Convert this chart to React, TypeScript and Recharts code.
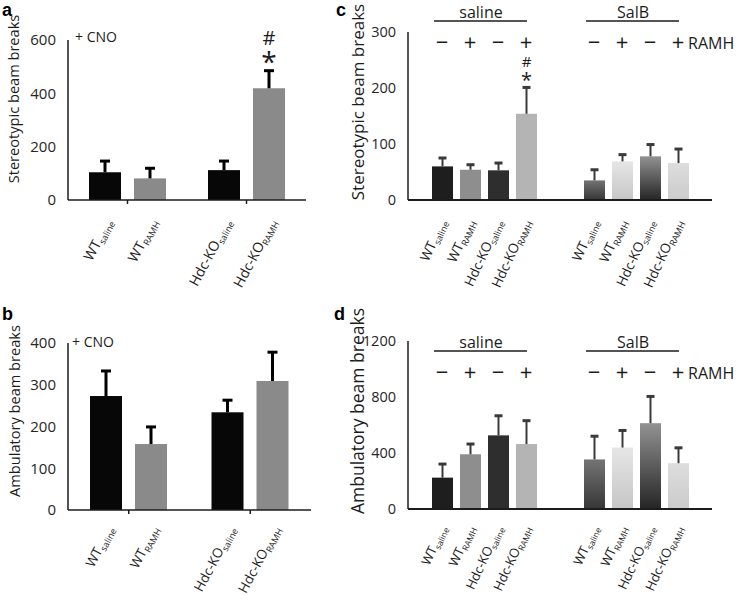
import { BarChart, Bar, XAxis, YAxis, Cell } from 'recharts';

const FONT = '"Open Sans", "Liberation Sans", sans-serif';
const INK = '#1c1c1c';

// ---- panels a, b: + CNO, grouped by genotype ----
const genotypes = ['WT', 'Hdc-KO'];
const pairSubs = ['saline', 'RAMH'];

const stereoCnoSaline = [104, 112];
const stereoCnoSalineErr = [42, 34];
const stereoCnoRamh = [81, 419];
const stereoCnoRamhErr = [38, 66];
const stereoCnoMarks = ['', '#*'];
const stereoCnoTicks = [0, 200, 400, 600];

const ambCnoSaline = [273, 234];
const ambCnoSalineErr = [60, 29];
const ambCnoRamh = [158, 309];
const ambCnoRamhErr = [41, 69];
const ambCnoTicks = [0, 100, 200, 300, 400];

// ---- panels c, d: saline vs SalB pretreatment ----
const treatments = ['saline', 'SalB'];
const groupLabels = [
  ['WT', 'saline'],
  ['WT', 'RAMH'],
  ['Hdc-KO', 'saline'],
  ['Hdc-KO', 'RAMH'],
];
const ramhSigns = ['\u2212', '+', '\u2212', '+'];

const stereoWtSal = [60, 35];
const stereoWtSalErr = [15, 19];
const stereoWtRamh = [54, 69];
const stereoWtRamhErr = [9, 12];
const stereoKoSal = [53, 78];
const stereoKoSalErr = [13, 21];
const stereoKoRamh = [154, 66];
const stereoKoRamhErr = [47, 25];
const stereoKoRamhMarks = ['#*', ''];
const stereoTicks = [0, 100, 200, 300];

const ambWtSal = [224, 354];
const ambWtSalErr = [97, 166];
const ambWtRamh = [391, 439];
const ambWtRamhErr = [73, 122];
const ambKoSal = [526, 613];
const ambKoSalErr = [140, 191];
const ambKoRamh = [464, 327];
const ambKoRamhErr = [167, 110];
const ambTicks = [0, 400, 800, 1200];

// shades for the SalB bars (top, bottom)
const salbShades = [
  ['#747474', '#363636'],
  ['#e6e6e6', '#c6c6c6'],
  ['#929292', '#252525'],
  ['#dddddd', '#cbcbcb'],
];
const salineShades = ['#1e1e1e', '#8e8e8e', '#2e2e2e', '#b4b4b4'];
const cdKeys = ['wtSal', 'wtRamh', 'koSal', 'koRamh'];

type Series = { key: string; fills: string[] };

function BarWithErr(p: any) {
  const { x, y, width, height, fill, payload, sKey, cfg } = p;
  const v = payload[sKey];
  if (!v || height <= 0) return null;
  const perUnit = height / v;
  const top = y - payload[sKey + 'Err'] * perUnit;
  const cx = x + width / 2;
  const mark = payload[sKey + 'Mark'];
  const e = cfg.err;
  const s = cfg.sig;
  return (
    <g>
      <rect x={x} y={y} width={width} height={height} fill={fill} />
      <line x1={cx} x2={cx} y1={y} y2={top} stroke={e.color} strokeWidth={e.width} />
      <line x1={cx - e.cap / 2} x2={cx + e.cap / 2} y1={top} y2={top} stroke={e.color} strokeWidth={e.capW} />
      {mark ? (
        <text fill={INK} fontFamily={FONT} textAnchor="middle">
          <tspan x={cx} y={top - s.hashGap} fontSize={s.hashSize}>#</tspan>
          <tspan x={cx} y={top - s.starGap} fontSize={s.starSize}>*</tspan>
        </text>
      ) : null}
    </g>
  );
}

function BottomTick(p: any) {
  const { x, y, payload, cfg } = p;
  const labs: string[][] = cfg.labels(payload.value);
  const n = labs.length;
  const step = cfg.barSize + cfg.barGap;
  const base = y - cfg.tickSize;
  const annot = cfg.annot;
  const lineY = base - cfg.plotH + (annot ? annot.y : 0);
  return (
    <g fontFamily={FONT} fill={INK}>
      {labs.map(([main, sub], i) => {
        const bx = x + (i - (n - 1) / 2) * step + cfg.labDx;
        const by = base + cfg.labDy;
        return (
          <text key={i} x={bx} y={by} transform={`rotate(${cfg.angle}, ${bx}, ${by})`} textAnchor="end" fontSize={cfg.labFont}>
            {main}
            <tspan fontSize={cfg.subFont} dy={3}>{sub}</tspan>
          </text>
        );
      })}
      {annot ? (
        <g>
          <line x1={x - 50} x2={x + 43} y1={lineY} y2={lineY} stroke={INK} strokeWidth={1.5} />
          <text x={x - 3} y={lineY - 3} textAnchor="middle" fontSize={16}>{payload.value}</text>
          {ramhSigns.map((s, i) => (
            <text key={i} x={x + (i - (n - 1) / 2) * step} y={lineY + 29} textAnchor="middle" fontSize={22}>{s}</text>
          ))}
          {payload.index === 1 ? (
            <text x={x + 52} y={lineY + 28} fontSize={16}>RAMH</text>
          ) : null}
        </g>
      ) : null}
    </g>
  );
}

function AxisTitle(p: any) {
  const { tx, ty, size, text } = p;
  return (
    <text x={tx} y={ty} transform={`rotate(-90, ${tx}, ${ty})`} textAnchor="middle" fontSize={size} fill={INK} fontFamily={FONT}>
      {text}
    </text>
  );
}

function Panel({ cfg, rows, series }: { cfg: any; rows: any[]; series: Series[] }) {
  return (
    <div style={{ position: 'absolute', left: cfg.left, top: cfg.top }}>
      <BarChart width={cfg.width} height={cfg.height} data={rows} margin={cfg.margin} barSize={cfg.barSize} barGap={cfg.barGap}>
        <defs>
          {salbShades.map((s, i) => (
            <linearGradient key={i} id={`${cfg.id}-g${i}`} x1="0" y1="0" x2="0" y2="1">
              <stop offset="0%" stopColor={s[0]} />
              <stop offset="100%" stopColor={s[1]} />
            </linearGradient>
          ))}
        </defs>
        <XAxis
          dataKey="cat"
          interval={0}
          height={60}
          axisLine={{ stroke: INK, strokeWidth: cfg.xAxisW }}
          tickLine={cfg.tickSize ? { stroke: INK, strokeWidth: 1.5 } : false}
          tickSize={cfg.tickSize}
          tickMargin={0}
          tick={(t: any) => <BottomTick {...t} cfg={cfg} />}
        />
        <YAxis
          type="number"
          domain={[0, cfg.ticks[cfg.ticks.length - 1]]}
          ticks={cfg.ticks}
          interval={0}
          width={cfg.yWidth}
          axisLine={{ stroke: INK, strokeWidth: 1.5 }}
          tickLine={false}
          tickSize={0}
          tickMargin={12}
          tick={{ fontSize: cfg.yTickFont, fill: '#262626', fontFamily: FONT }}
          label={<AxisTitle tx={cfg.titleX} ty={cfg.titleY} size={cfg.titleSize} text={cfg.title} />}
        />
        {series.map((s) => (
          <Bar
            key={s.key}
            dataKey={s.key}
            isAnimationActive={false}
            shape={(b: any) => <BarWithErr {...b} sKey={s.key} cfg={cfg} />}
          >
            {rows.map((r, i) => (
              <Cell key={r.cat} fill={s.fills[i]} />
            ))}
          </Bar>
        ))}
      </BarChart>
    </div>
  );
}

function abRows(sal: number[], salErr: number[], ramh: number[], ramhErr: number[], marks: string[]) {
  return genotypes.map((g, i) => ({
    cat: g,
    saline: sal[i],
    salineErr: salErr[i],
    salineMark: '',
    ramh: ramh[i],
    ramhErr: ramhErr[i],
    ramhMark: marks[i],
  }));
}

function cdRows(vals: number[][], errs: number[][], koRamhMarks: string[]) {
  return treatments.map((t, i) => {
    const r: any = { cat: t };
    cdKeys.forEach((k, j) => {
      r[k] = vals[j][i];
      r[k + 'Err'] = errs[j][i];
      r[k + 'Mark'] = j === 3 ? koRamhMarks[i] : '';
    });
    return r;
  });
}

const abSeries: Series[] = [
  { key: 'saline', fills: ['#070707', '#070707'] },
  { key: 'ramh', fills: ['#8a8a8a', '#8a8a8a'] },
];

function cdSeries(id: string): Series[] {
  return cdKeys.map((k, j) => ({ key: k, fills: [salineShades[j], `url(#${id}-g${j})`] }));
}

const abCommon = {
  barSize: 32,
  barGap: 13,
  yWidth: 68,
  yTickFont: 15,
  labFont: 14,
  subFont: 9,
  angle: -62,
  labDx: 8,
  labDy: 22,
  xAxisW: 1.5,
  tickSize: 4,
  labels: (cat: string) => pairSubs.map((s) => [cat, s]),
  err: { color: '#000', width: 3, cap: 10, capW: 3 },
  sig: { hashSize: 20, starSize: 28, hashGap: 26, starGap: -1 },
};

const cdCommon = {
  barSize: 21,
  barGap: 7,
  yWidth: 88,
  yTickFont: 14.5,
  labFont: 13.5,
  subFont: 9,
  angle: -65,
  labDx: 5,
  labDy: 22,
  xAxisW: 2,
  tickSize: 0,
  labels: () => groupLabels,
  err: { color: '#3a3a3a', width: 2, cap: 8, capW: 3 },
  sig: { hashSize: 15, starSize: 20, hashGap: 20, starGap: 0 },
};

const cfgA = {
  ...abCommon, id: 'pa', left: 0, top: 0, width: 320, height: 300,
  margin: { top: 40, right: 14, bottom: 40, left: 0 }, plotH: 160,
  ticks: stereoCnoTicks, title: 'Stereotypic beam breaks', titleSize: 14.6, titleX: 19, titleY: 99,
};
const cfgB = {
  ...abCommon, id: 'pb', left: 0, top: 295, width: 320, height: 300,
  margin: { top: 48, right: 9, bottom: 25, left: 0 }, plotH: 167,
  labFont: 13.5, labDy: 19,
  ticks: ambCnoTicks, title: 'Ambulatory beam breaks', titleSize: 14.6, titleX: 20, titleY: 116,
};
const cfgC = {
  ...cdCommon, id: 'pc', left: 320, top: 0, width: 420, height: 300,
  margin: { top: 32, right: 28, bottom: 40, left: 0 }, plotH: 168, annot: { y: -11 },
  ticks: stereoTicks, title: 'Stereotypic beam breaks', titleSize: 17, titleX: 44, titleY: 102,
};
const cfgD = {
  ...cdCommon, id: 'pd', left: 320, top: 295, width: 420, height: 300,
  margin: { top: 46, right: 28, bottom: 26, left: 0 }, plotH: 168, annot: { y: 10 },
  labFont: 13, subFont: 8.5, labDy: 19,
  ticks: ambTicks, title: 'Ambulatory beam breaks', titleSize: 17.5, titleX: 44, titleY: 116,
};

export default function App() {
  const rowsA = abRows(stereoCnoSaline, stereoCnoSalineErr, stereoCnoRamh, stereoCnoRamhErr, stereoCnoMarks);
  const rowsB = abRows(ambCnoSaline, ambCnoSalineErr, ambCnoRamh, ambCnoRamhErr, ['', '']);
  const rowsC = cdRows(
    [stereoWtSal, stereoWtRamh, stereoKoSal, stereoKoRamh],
    [stereoWtSalErr, stereoWtRamhErr, stereoKoSalErr, stereoKoRamhErr],
    stereoKoRamhMarks,
  );
  const rowsD = cdRows(
    [ambWtSal, ambWtRamh, ambKoSal, ambKoRamh],
    [ambWtSalErr, ambWtRamhErr, ambKoSalErr, ambKoRamhErr],
    ['', ''],
  );

  return (
    <div style={{ position: 'absolute', left: 0, top: 0, width: 740, height: 595, background: '#fff', overflow: 'hidden' }}>
      <Panel cfg={cfgA} rows={rowsA} series={abSeries} />
      <Panel cfg={cfgB} rows={rowsB} series={abSeries} />
      <Panel cfg={cfgC} rows={rowsC} series={cdSeries('pc')} />
      <Panel cfg={cfgD} rows={rowsD} series={cdSeries('pd')} />
      <svg width={740} height={595} style={{ position: 'absolute', left: 0, top: 0, pointerEvents: 'none' }}>
        <g fontFamily='"Liberation Sans", Arial, sans-serif' fontWeight="bold" fontSize={18} fill="#000">
          <text x={2} y={16}>a</text>
          <text x={2} y={320}>b</text>
          <text x={336} y={16}>c</text>
          <text x={334} y={320}>d</text>
        </g>
        <g fontFamily={FONT} fontSize={14} fill={INK}>
          <text x={75} y={42}>+ CNO</text>
          <text x={72} y={347}>+ CNO</text>
        </g>
      </svg>
    </div>
  );
}
